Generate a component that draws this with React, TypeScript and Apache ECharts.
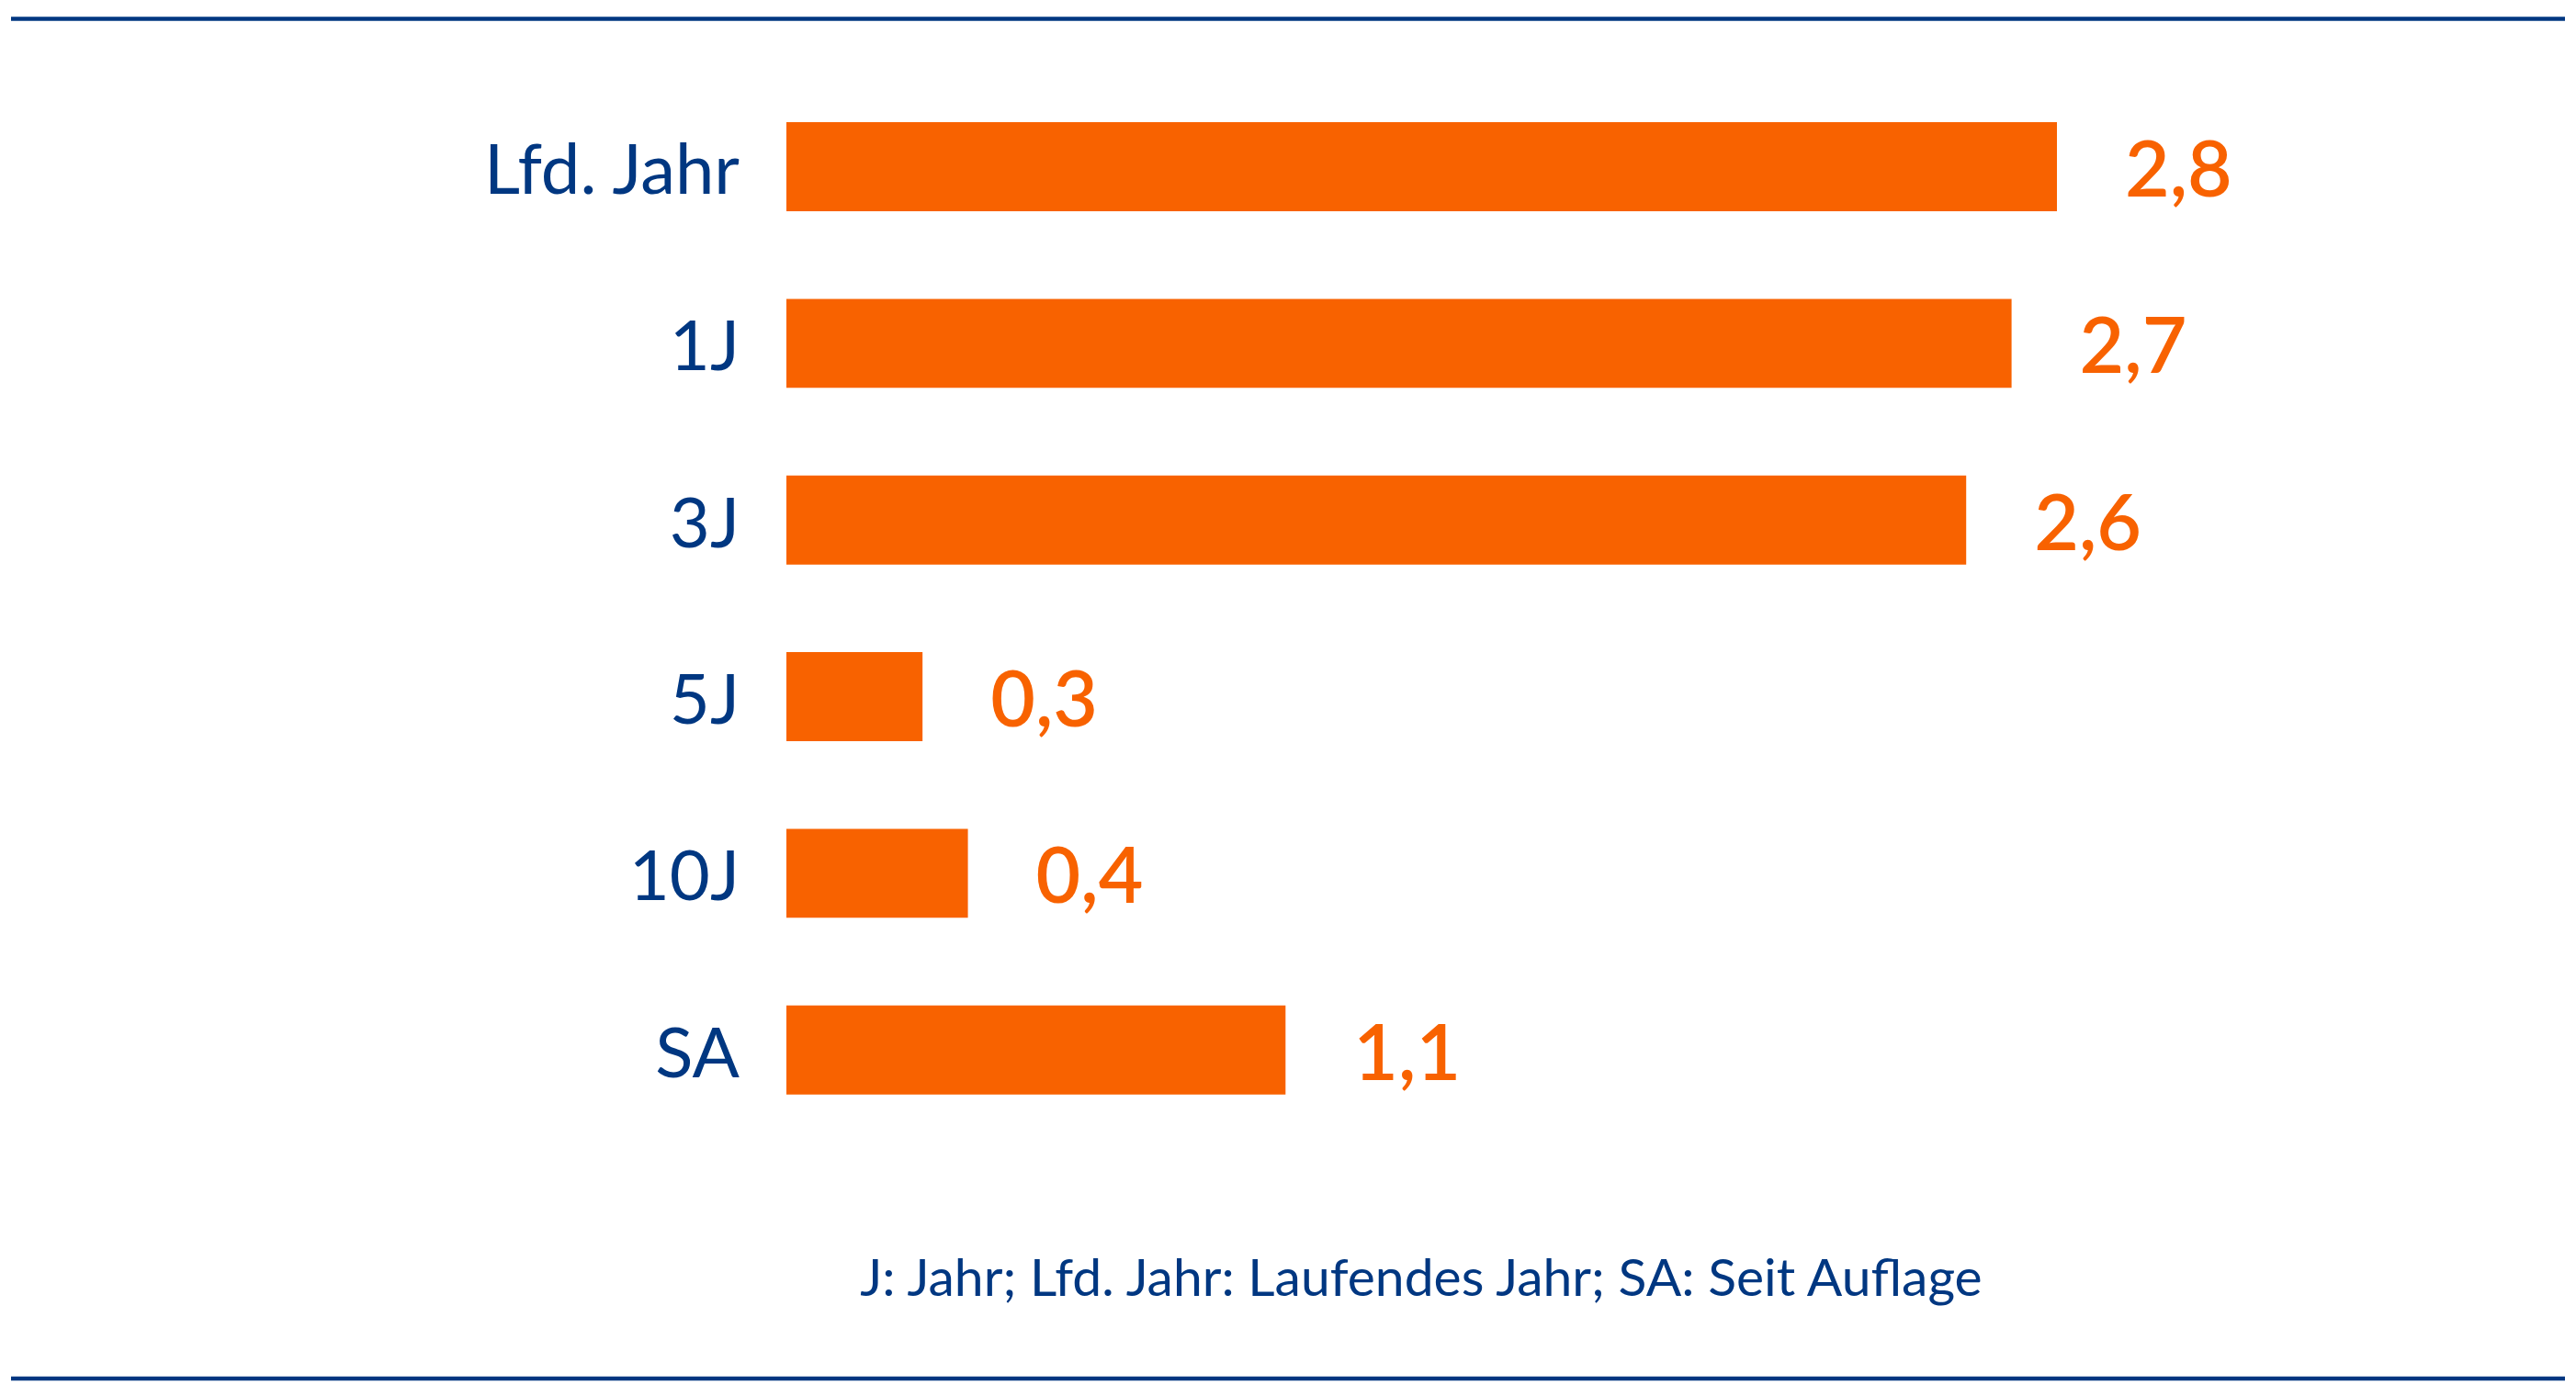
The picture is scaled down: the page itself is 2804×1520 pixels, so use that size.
import React, { useEffect, useRef } from "react";
import * as echarts from "echarts";

const categories = ["Lfd. Jahr", "1J", "3J", "5J", "10J", "SA"];
const values = [2.8, 2.7, 2.6, 0.3, 0.4, 1.1];
const footnote = "J: Jahr; Lfd. Jahr: Laufendes Jahr; SA: Seit Auflage";

const BLUE = "#003781";
const ORANGE = "#F86200";
const FONT = "Lato, 'Open Sans', sans-serif";

export default function App() {
  const ref = useRef<HTMLDivElement>(null);
  useEffect(() => {
    if (!ref.current) return;
    const chart = echarts.init(ref.current, null, { renderer: "svg" });
    chart.setOption({
      animation: false,
      backgroundColor: "#ffffff",
      grid: { left: 856, right: 565, top: 85.4, height: 1154, containLabel: false },
      xAxis: {
        type: "value",
        min: 0,
        max: 2.8,
        show: false,
        splitLine: { show: false },
      },
      yAxis: {
        type: "category",
        data: categories,
        inverse: true,
        axisLine: { show: false },
        axisTick: { show: false },
        axisLabel: {
          margin: 51,
          fontSize: 76,
          color: BLUE,
          fontFamily: FONT,
        },
      },
      series: [
        {
          type: "bar",
          data: values,
          barCategoryGap: "49.6%",
          itemStyle: { color: ORANGE },
          label: {
            show: true,
            position: "right",
            distance: 74,
            fontSize: 84,
            fontWeight: 600,
            fontFamily: FONT,
            color: ORANGE,
            formatter: (p: any) => String(p.value.toFixed(1)).replace(".", ","),
          },
        },
      ],
      graphic: [
        {
          type: "line",
          shape: { x1: 12, y1: 20.5, x2: 2792, y2: 20.5 },
          style: { stroke: BLUE, lineWidth: 4.5 },
        },
        {
          type: "line",
          shape: { x1: 12, y1: 1501, x2: 2792, y2: 1501 },
          style: { stroke: BLUE, lineWidth: 4.5 },
        },
        {
          type: "text",
          x: 1547,
          y: 1389,
          style: {
            text: footnote,
            fill: BLUE,
            fontSize: 57,
            fontFamily: FONT,
            textAlign: "center",
            textVerticalAlign: "middle",
          },
        },
      ],
    });
    return () => chart.dispose();
  }, []);
  return (
    <div
      ref={ref}
      style={{ position: "fixed", left: 0, top: 0, width: 2804, height: 1520 }}
    />
  );
}
